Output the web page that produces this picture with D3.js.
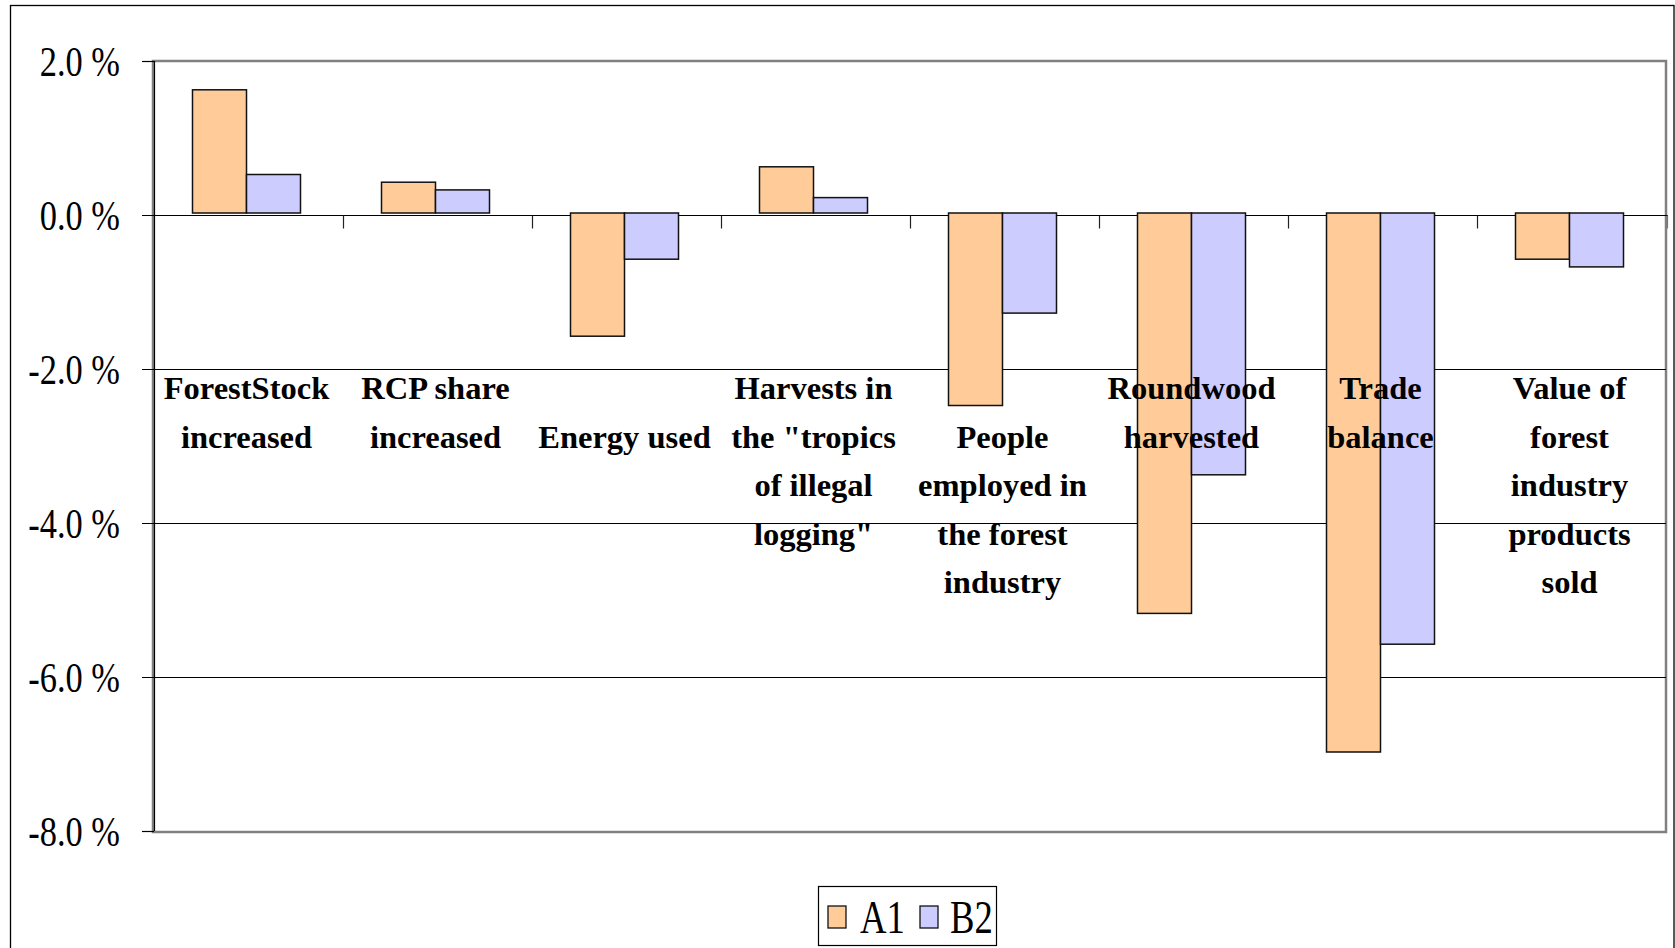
<!DOCTYPE html>
<html>
<head>
<meta charset="utf-8">
<script src="https://cdn.jsdelivr.net/npm/d3@7"></script>
<style>
  html, body { margin: 0; padding: 0; background: #fff; }
  svg { display: block; }
</style>
</head>
<body>
<svg id="chart" width="1675" height="948"></svg>
<script>
// Category names, one array of lines per category label
const categories = [
  "ForestStock increased", "RCP share increased", "Energy used",
  "Harvests in the tropics of illegal logging",
  "People employed in the forest industry", "Roundwood harvested",
  "Trade balance", "Value of forest industry products sold"
];
const categoryLines = [
  ["ForestStock", "increased"],
  ["RCP share", "increased"],
  ["Energy used"],
  ["Harvests in", "the \"tropics", "of illegal", "logging\""],
  ["People", "employed in", "the forest", "industry"],
  ["Roundwood", "harvested"],
  ["Trade", "balance"],
  ["Value of", "forest", "industry", "products", "sold"]
];
// Series (% change)
const seriesNames = ["A1", "B2"];
const valuesA1 = [1.6, 0.4, -1.6, 0.6, -2.5, -5.2, -7.0, -0.6];
const valuesB2 = [0.5, 0.3, -0.6, 0.2, -1.3, -3.4, -5.6, -0.7];
const seriesColors = ["#FFCC99", "#CCCCFF"];
// Value axis ticks
const yTicks = [2, 0, -2, -4, -6, -8];
// Vertical row where each category label starts
const labelRowStart = [0, 0, 1, 0, 1, 0, 0, 0];

const svg = d3.select("#chart");
const plot = { left: 154, right: 1666, top: 61, bottom: 831 };

// Outer chart border
svg.append("rect")
  .attr("x", 10.5).attr("y", 5.5)
  .attr("width", 1663.5).attr("height", 980)
  .attr("fill", "#fff").attr("stroke", "#000").attr("stroke-width", 1.3);

const x = d3.scaleBand().domain(categories).range([plot.left, plot.right]).padding(0);
const xs = d3.scaleBand().domain(seriesNames).range([0, x.bandwidth()])
  .paddingInner(0).paddingOuter(0.75);
const y = d3.scaleLinear().domain([-8, 2]).range([plot.bottom, plot.top]);

// Plot-area frame
svg.append("rect")
  .attr("x", plot.left - 1).attr("y", plot.top)
  .attr("width", plot.right - plot.left + 1).attr("height", plot.bottom - plot.top + 1)
  .attr("fill", "none").attr("stroke", "#808080").attr("stroke-width", 2.5);

// Horizontal gridlines with outward ticks
const grid = svg.append("g");
yTicks.forEach(t => {
  const yy = Math.round(y(t)) + 0.5;
  const inner = (t === 2 || t === -8) ? plot.left : plot.right;
  grid.append("line")
    .attr("x1", 142).attr("x2", inner)
    .attr("y1", yy).attr("y2", yy)
    .attr("stroke", "#000").attr("stroke-width", 1.2);
});
// Value axis line
svg.append("line")
  .attr("x1", plot.left + 0.5).attr("x2", plot.left + 0.5)
  .attr("y1", plot.top).attr("y2", plot.bottom)
  .attr("stroke", "#000").attr("stroke-width", 1.2);

// Category ticks along the zero line
const zeroY = Math.round(y(0)) + 0.5;
svg.append("line")
  .attr("x1", plot.left).attr("x2", plot.right + 2)
  .attr("y1", zeroY).attr("y2", zeroY)
  .attr("stroke", "#000").attr("stroke-width", 1.2);
categories.slice(1).concat([null]).forEach(c => {
  const xx = (c === null ? plot.right + 1.5 : Math.round(x(c)) + 0.5);
  svg.append("line")
    .attr("x1", xx).attr("x2", xx)
    .attr("y1", zeroY).attr("y2", zeroY + 13)
    .attr("stroke", c === null ? "#777" : "#222").attr("stroke-width", 1.2);
});

// Bars
const barShift = -2;
const rows = categories.map((c, i) => ({ cat: c, vals: [valuesA1[i], valuesB2[i]] }));
const groups = svg.append("g").selectAll("g").data(rows).join("g")
  .attr("transform", d => `translate(${x(d.cat) - 2},0)`);
groups.selectAll("rect")
  .data(d => d.vals.map((v, j) => ({ v, s: seriesNames[j], j })))
  .join("rect")
  .attr("x", d => xs(d.s))
  .attr("width", xs.bandwidth())
  .attr("y", d => Math.min(y(d.v), y(0)) + barShift)
  .attr("height", d => Math.abs(y(d.v) - y(0)))
  .attr("fill", d => seriesColors[d.j])
  .attr("stroke", "#111").attr("stroke-width", 1.5);

// Category labels
const labelFont = "'Liberation Serif', 'Times New Roman', serif";
const labels = svg.append("g");
categories.forEach((c, i) => {
  const cx = x(c) + x.bandwidth() / 2 - 2;
  categoryLines[i].forEach((line, k) => {
    labels.append("text")
      .attr("x", cx)
      .attr("y", 399 + (labelRowStart[i] + k) * 48.5)
      .attr("text-anchor", "middle")
      .attr("font-family", labelFont)
      .attr("font-weight", "bold")
      .attr("font-size", 32.5)
      .attr("fill", "#000")
      .text(line);
  });
});

// Value-axis tick labels (hyphen-minus for negatives)
const fmt = v => d3.format(".1f")(v).replace("\u2212", "-") + " %";
yTicks.forEach(t => {
  svg.append("text")
    .attr("transform", `translate(120,${y(t) + 15}) scale(0.8,1)`)
    .attr("text-anchor", "end")
    .attr("font-family", labelFont)
    .attr("font-size", 43)
    .attr("fill", "#000")
    .text(fmt(t));
});

// Legend
const legend = svg.append("g");
legend.append("rect")
  .attr("x", 818.5).attr("y", 886.5).attr("width", 178).attr("height", 59)
  .attr("fill", "#fff").attr("stroke", "#000").attr("stroke-width", 1.2);
const legendItems = [
  { name: seriesNames[0], color: seriesColors[0], sx: 828, tx: 860 },
  { name: seriesNames[1], color: seriesColors[1], sx: 920, tx: 950 }
];
legendItems.forEach(it => {
  legend.append("rect")
    .attr("x", it.sx).attr("y", 906).attr("width", 18).attr("height", 22)
    .attr("fill", it.color).attr("stroke", "#111").attr("stroke-width", 1.3);
  legend.append("text")
    .attr("transform", `translate(${it.tx},933) scale(0.78,1)`)
    .attr("font-family", labelFont)
    .attr("font-size", 47)
    .attr("fill", "#000")
    .text(it.name);
});
</script>
</body>
</html>
